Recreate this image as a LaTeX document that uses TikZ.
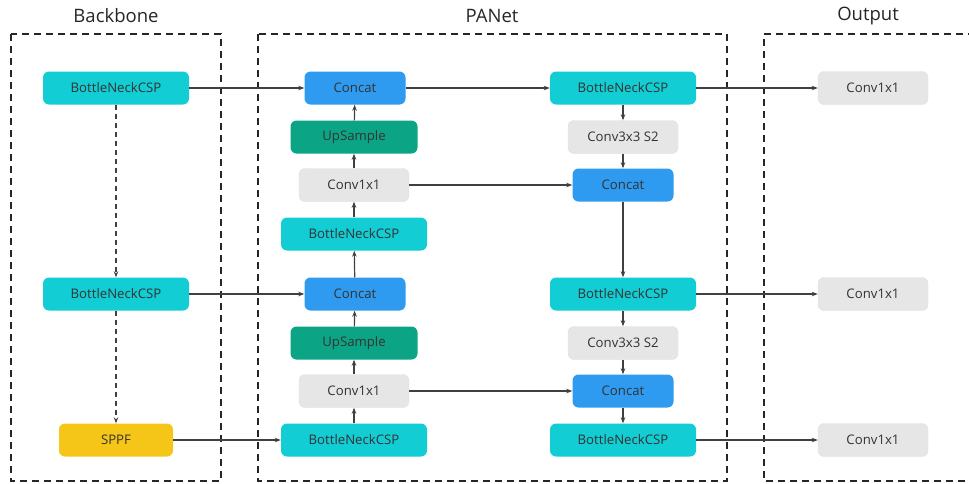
\documentclass[tikz,border=0pt]{standalone}
\usepackage{fontspec}
\setmainfont{Open Sans}
\usepackage{xcolor}
\usetikzlibrary{arrows.meta,positioning}
\definecolor{cspfill}{HTML}{12CDD4}
\definecolor{catfill}{HTML}{2E9BF0}
\definecolor{upsfill}{HTML}{0BA585}
\definecolor{convfill}{HTML}{E6E6E6}
\definecolor{sppffill}{HTML}{F5C518}
\definecolor{ink}{HTML}{404040}

\begin{document}
\begin{tikzpicture}[x=1pt, y=-1pt,
  blk/.style={rectangle, rounded corners=6pt, minimum height=33pt, inner sep=0pt,
    font=\fontsize{13.2}{15}\selectfont, text=black!80},
  csp/.style={blk, fill=cspfill, minimum width=146pt},
  cat/.style={blk, fill=catfill, minimum width=101pt},
  ups/.style={blk, fill=upsfill, minimum width=127pt},
  conv/.style={blk, fill=convfill, draw=black!12, minimum width=110pt},
  sppfbox/.style={blk, fill=sppffill, minimum width=114pt},
  frame/.style={dashed, dash pattern=on 7pt off 5pt, line width=1.3pt, black!85},
  title/.style={font=\fontsize{18.5}{21}\selectfont, text=black!85},
  flow/.style={-{Stealth[length=6pt,width=4.5pt]}, line width=1.2pt, ink},
  skip/.style={flow, dashed, dash pattern=on 5pt off 4pt}]
\useasboundingbox (0,0) rectangle (969,483);

% groups
\draw[frame] (11,34) rectangle (221,481);
\draw[frame] (258,34) rectangle (727,481);
\draw[frame] (975,34) -- (764,34) -- (764,481) -- (975,481);
\node[title] (tback) at (116,16) {Backbone};
\node[title] (tpan) at (492,16) {PANet};
\node[title] (tout) at (868,16) {Output};

% backbone
\node[csp] (b1) at (116,88) {BottleNeckCSP};
\node[csp] (b2) at (116,294) {BottleNeckCSP};
\node[sppfbox] (sppf) at (116,440) {SPPF};

% PANet, top-down path
\node[cat] (cat1) at (355,88) {Concat};
\node[ups] (up1) at (354,137) {UpSample};
\node[conv] (cv1) at (354,185) {Conv1x1};
\node[csp] (csp1) at (354,234) {BottleNeckCSP};
\node[cat] (cat2) at (355,294) {Concat};
\node[ups] (up2) at (354,343) {UpSample};
\node[conv] (cv2) at (354,391) {Conv1x1};
\node[csp] (csp2) at (354,440) {BottleNeckCSP};

% PANet, bottom-up path
\node[csp] (p3) at (623,88) {BottleNeckCSP};
\node[conv] (ds1) at (623,137) {Conv3x3 S2};
\node[cat] (cat3) at (623,185) {Concat};
\node[csp] (p4) at (623,294) {BottleNeckCSP};
\node[conv] (ds2) at (623,343) {Conv3x3 S2};
\node[cat] (cat4) at (623,391) {Concat};
\node[csp] (p5) at (623,440) {BottleNeckCSP};

% output
\node[conv] (o1) at (873,88) {Conv1x1};
\node[conv] (o2) at (873,294) {Conv1x1};
\node[conv] (o3) at (873,440) {Conv1x1};

\draw[skip] (b1) -- (b2);
\draw[skip] (b2) -- (sppf);

\foreach \a/\b in {b1/cat1, b2/cat2, sppf/csp2, cat1/p3, cv1/cat3, cv2/cat4, p3/o1, p4/o2, p5/o3} {
  \draw[flow] (\a) -- (\b);
}
\foreach \a/\b in {csp2/cv2, cv2/up2, up2/cat2, cat2/csp1, csp1/cv1, cv1/up1, up1/cat1,
                   p3/ds1, ds1/cat3, cat3/p4, p4/ds2, ds2/cat4, cat4/p5} {
  \draw[flow] (\a) -- (\b);
}
\end{tikzpicture}
\end{document}
